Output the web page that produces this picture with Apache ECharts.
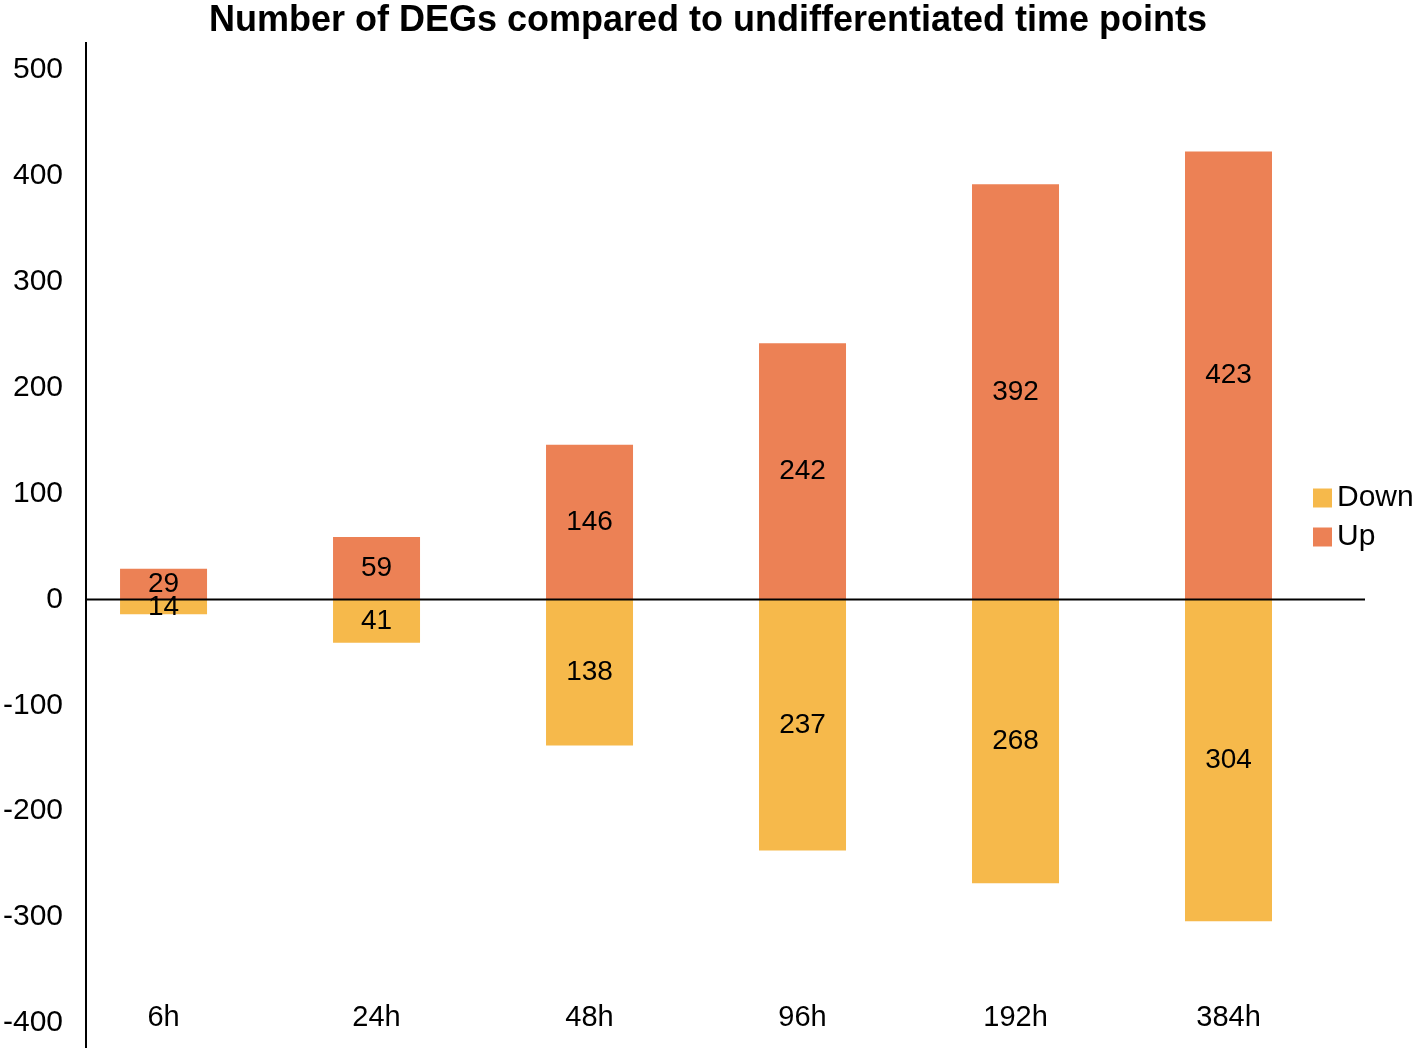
<!DOCTYPE html>
<html>
<head>
<meta charset="utf-8">
<script src="https://cdn.jsdelivr.net/npm/echarts@6/dist/echarts.min.js"></script>
<style>
  html, body { margin: 0; padding: 0; background: #fff; }
  #chart { width: 1416px; height: 1051px; }
</style>
</head>
<body>
<div id="chart"></div>
<script>
const categories = ['6h', '24h', '48h', '96h', '192h', '384h']
const upValues = [29, 59, 146, 242, 392, 423]
const downValues = [-14, -41, -138, -237, -268, -304]
const yTicks = { min: -400, max: 500, step: 100 }

const font = 'Liberation Sans, Arial, Helvetica, sans-serif'
const chart = echarts.init(document.getElementById('chart'))

const option = {
  animation: false,
  textStyle: { fontFamily: font },
  title: {
    text: 'Number of DEGs compared to undifferentiated time points',
    left: 'center',
    top: -2,
    textStyle: { fontSize: 36, fontWeight: 'bold', color: '#000', fontFamily: font }
  },
  legend: {
    orient: 'vertical',
    left: 1308,
    top: 478,
    icon: 'rect',
    itemWidth: 19,
    itemHeight: 19,
    itemGap: 9,
    textStyle: { fontSize: 30, color: '#000', fontFamily: font },
    data: ['Down', 'Up']
  },
  grid: { left: 54, right: 81, top: 70, bottom: 28 },
  xAxis: {
    type: 'category',
    data: categories,
    axisLine: { show: false },
    axisTick: { show: false },
    axisLabel: { fontSize: 29, color: '#000', margin: -20, fontFamily: font }
  },
  yAxis: {
    type: 'value',
    min: yTicks.min,
    max: yTicks.max,
    interval: yTicks.step,
    axisLine: { show: false },
    axisTick: { show: false },
    splitLine: { show: false },
    axisLabel: { fontSize: 30, color: '#000', margin: -6, fontFamily: font }
  },
  series: [
    {
      name: 'Down',
      type: 'bar',
      data: downValues,
      barWidth: 87,
      barGap: '-100%',
      itemStyle: { color: '#F6B94B' },
      label: {
        show: true,
        position: 'inside',
        fontSize: 28,
        color: '#000',
        fontFamily: font,
        formatter: p => Math.abs(p.value)
      }
    },
    {
      name: 'Up',
      type: 'bar',
      data: upValues,
      barWidth: 87,
      barGap: '-100%',
      itemStyle: { color: '#EC8155' },
      label: {
        show: true,
        position: 'inside',
        fontSize: 28,
        color: '#000',
        fontFamily: font
      }
    }
  ]
}

chart.setOption(option)

// axis lines like the original: y line at the left, zero line across
const zeroY = chart.convertToPixel({ yAxisIndex: 0 }, 0)
chart.setOption({
  graphic: [
    {
      type: 'line',
      shape: { x1: 86, y1: 42, x2: 86, y2: 1048 },
      style: { stroke: '#000', lineWidth: 2 },
      z: 10
    },
    {
      type: 'line',
      shape: { x1: 86, y1: zeroY, x2: 1365, y2: zeroY },
      style: { stroke: '#000', lineWidth: 2 },
      z: 10
    }
  ]
})
</script>
</body>
</html>
